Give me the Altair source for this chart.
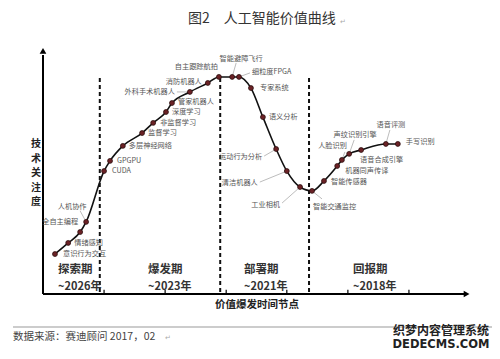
import altair as alt
import pandas as pd

# ---------------- data (arbitrary units 0-100) ----------------
names = ["意识行为交互", "情绪感知", "全自主编程", "人机协作", "CUDA", "GPGPU",
         "多层神经网络", "监督学习", "非监督学习", "深度学习", "管家机器人",
         "外科手术机器人", "消防机器人", "自主跟踪航拍", "智能避障飞行", "细粒度FPGA",
         "专家系统", "语义分析", "运动行为分析", "清洁机器人", "工业相机",
         "智能交通监控", "智能传感器", "机器同声传译", "人脸识别", "声纹识别引擎",
         "语音合成引擎", "语音评测", "手写识别"]
time_x = [2.8, 5.9, 8.7, 10.1, 14.3, 15.7, 18.7, 23.2, 25.8, 28.8, 30.2, 34.4, 38.6, 41.2,
          44.3, 45.9, 48.7, 51.5, 54.6, 57.1, 60.2, 63.0, 65.8, 68.9, 70.0, 71.7, 74.5,
          80.3, 83.1]
attention = [16.5, 21.1, 25.6, 29.8, 50.8, 55.0, 61.2, 66.5, 70.7, 75.2, 78.9, 83.5, 87.2,
             89.7, 89.7, 89.7, 85.1, 73.1, 59.9, 50.8, 44.2, 42.6, 46.7, 52.9, 55.4, 57.9,
             59.5, 62.0, 62.0]

phase_names = ["探索期", "爆发期", "部署期", "回报期"]
phase_years = ["~2026年", "~2023年", "~2021年", "~2018年"]
phase_start = [3.5, 24.6, 47.1, 72.6]
phase_bounds = [13.3, 41.5, 62.3]
tick_vals = [14.3, 28.6, 42.9, 57.1, 71.4, 85.7]
y_title_chars = ["技", "术", "关", "注", "度"]

# ---------------- layout (pixel offsets of labels & leader lines) ----------------
lab_dx = [8, 6, -2, -14, 8, 7, 6, 6, 7, 6, 6, -15, -6, -1, 9, 13, 9, 6, -14, -29, -20, 1,
          7, 8, 5, 6, -1, 5, 8]
lab_dy = [0, 0, -10, -15, 0, 0, 0, 0, 0, 0, -1.5, 0, -1, -10, -18, -5, 0, 0, 8, 12, 18, 16,
          1.5, 5, -14, -19, 10, -19, -2]
lab_align = ["left", "left", "right", "center", "left", "left", "left", "left", "left",
             "left", "left", "right", "right", "right", "center", "left", "left", "left",
             "right", "right", "right", "left", "left", "left", "right", "center", "left",
             "center", "left"]
lead_dx = [0, 0, 0, -6, 0, 0, 0, 0, 0, 0, 0, -13, 0, 0, 4, 11, 0, 0, -12, -27, -18, 10,
           0, 0, 3, 5, 0, 4, 0]
lead_dy = [0, 0, 0, -11, 0, 0, 0, 0, 0, 0, 0, 0, 0, 0, -14, -4, 0, 0, 7, 11, 16, 8,
           0, 0, -8, -14, 0, -14, 0]

W, H = 427, 242
KX, KY = W / 100.0, H / 100.0

df = pd.DataFrame({"name": names, "x": time_x, "y": attention})
df["lx"] = [x + dx / KX for x, dx in zip(time_x, lab_dx)]
df["ly"] = [y - dy / KY for y, dy in zip(attention, lab_dy)]
df["align"] = lab_align
df["ex"] = [x + dx / KX for x, dx in zip(time_x, lead_dx)]
df["ey"] = [y - dy / KY for y, dy in zip(attention, lead_dy)]
df["lead"] = [(a != 0 or b != 0) for a, b in zip(lead_dx, lead_dy)]

xs = alt.Scale(domain=[0, 100], nice=False, zero=False)
ys = alt.Scale(domain=[0, 100], nice=False, zero=False)


def X(f):
    return alt.X(f, type="quantitative", scale=xs, axis=None)


def Y(f):
    return alt.Y(f, type="quantitative", scale=ys, axis=None)


FONT = "Noto Sans CJK SC"

# axes lines
axes_df = pd.DataFrame({"x": [0.0, 0.0], "y": [0.0, 0.0], "x2": [0.0, 98.6], "y2": [98.8, 0.0]})
axes = alt.Chart(axes_df).mark_rule(color="black", strokeWidth=2, clip=False).encode(
    x=X("x"), y=Y("y"), x2=alt.X2("x2"), y2=alt.Y2("y2"))
arrow_df = pd.DataFrame({"x": [0.0, 99.2], "y": [100.5, 0.0], "s": ["up", "right"]})
arrow_up = alt.Chart(arrow_df[arrow_df["s"] == "up"]).mark_point(
    shape="triangle-up", filled=True, color="black", size=45, opacity=1, clip=False
).encode(x=X("x"), y=Y("y"))
arrow_right = alt.Chart(arrow_df[arrow_df["s"] == "right"]).mark_point(
    shape="triangle-right", filled=True, color="black", size=45, opacity=1, clip=False
).encode(x=X("x"), y=Y("y"))

tick_df = pd.DataFrame({"x": tick_vals, "y": [0.0] * len(tick_vals), "y2": [1.8] * len(tick_vals)})
ticks = alt.Chart(tick_df).mark_rule(color="black", strokeWidth=1.2).encode(
    x=X("x"), y=Y("y"), y2=alt.Y2("y2"))

dash_df = pd.DataFrame({"x": phase_bounds, "y": [0.8] * 3, "y2": [89.5] * 3})
dashed = alt.Chart(dash_df).mark_rule(
    color="#111", strokeWidth=2, strokeDash=[4, 3]).encode(
    x=X("x"), y=Y("y"), y2=alt.Y2("y2"))

curve = alt.Chart(df).mark_line(color="#111", strokeWidth=1.6, interpolate="monotone").encode(
    x=X("x"), y=Y("y"))

leaders = alt.Chart(df[df["lead"]]).mark_rule(color="#bdbdbd", strokeWidth=1).encode(
    x=X("x"), y=Y("y"), x2=alt.X2("ex"), y2=alt.Y2("ey"))

points = alt.Chart(df).mark_point(
    filled=True, fill="#6b2226", stroke="#2b0d0d", strokeWidth=0.8, size=24, opacity=1
).encode(x=X("x"), y=Y("y"))

label_layers = []
for al in ["left", "right", "center"]:
    label_layers.append(
        alt.Chart(df[df["align"] == al]).mark_text(
            align=al, baseline="middle", font=FONT, fontSize=7.2, color="#555"
        ).encode(x=X("lx"), y=Y("ly"), text=alt.Text("name:N"))
    )

phase_df = pd.DataFrame({"x": phase_start, "name": phase_names, "year": phase_years,
                         "y1": [9.9] * 4, "y2": [2.9] * 4})
phase1 = alt.Chart(phase_df).mark_text(
    align="left", baseline="middle", font=FONT, fontSize=11.5, fontWeight="bold", color="#333"
).encode(x=X("x"), y=Y("y1"), text=alt.Text("name:N"))
phase2 = alt.Chart(phase_df).mark_text(
    align="left", baseline="middle", font=FONT, fontSize=11, fontWeight="bold", color="#333"
).encode(x=X("x"), y=Y("y2"), text=alt.Text("year:N"))


def note(text, x, y, **kw):
    d = pd.DataFrame({"t": [text]})
    font = kw.pop("font", FONT)
    return alt.Chart(d).mark_text(font=font, **kw).encode(
        x=alt.value(x), y=alt.value(y), text=alt.Text("t:N"))


title = note("图2　人工智能价值曲线", 145, -33, align="left", baseline="middle",
             fontSize=14, color="#333")
title_ret = note("↵", 297, -30, align="left", baseline="middle", fontSize=7, color="#aaa")
ytitle = [note(c, -7, 92 + 14.5 * i, align="center", baseline="middle",
               fontSize=10, fontWeight="bold", color="#222")
          for i, c in enumerate(y_title_chars)]
xtitle = note("价值爆发时间节点", 214, 253, align="center", baseline="middle",
              fontSize=10.5, fontWeight="bold", color="#222")
sep_df = pd.DataFrame({"a": [1]})
sep = alt.Chart(sep_df).mark_rule(color="#999", strokeWidth=1).encode(
    x=alt.value(-30), x2=alt.value(457), y=alt.value(275))
source = note("数据来源：赛迪顾问  2017，02", -30, 285, align="left", baseline="middle",
              fontSize=10.5, color="#444")
source_ret = note("↵", 122, 286, align="left", baseline="middle", fontSize=7, color="#aaa")
wm1 = note("织梦内容管理系统", 398, 279, align="center", baseline="middle",
           fontSize=12, fontWeight="bold", color="#222")
wm2 = note("DEDECMS.COM", 398, 293, align="center", baseline="middle",
           fontSize=11.5, fontWeight="bold", color="#222", font="DejaVu Sans")

chart = alt.layer(
    dashed, ticks, axes, arrow_up, arrow_right, leaders, curve, points,
    *label_layers, phase1, phase2, title, title_ret, *ytitle, xtitle, sep, source,
    source_ret, wm1, wm2
).properties(
    width=W, height=H,
    autosize=alt.AutoSizeParams(type="none"),
    padding={"left": 35, "top": 44, "right": 22, "bottom": 57},
).configure_view(strokeWidth=0)

chart.save("out.html", embed_options={"renderer": "svg", "actions": False})
